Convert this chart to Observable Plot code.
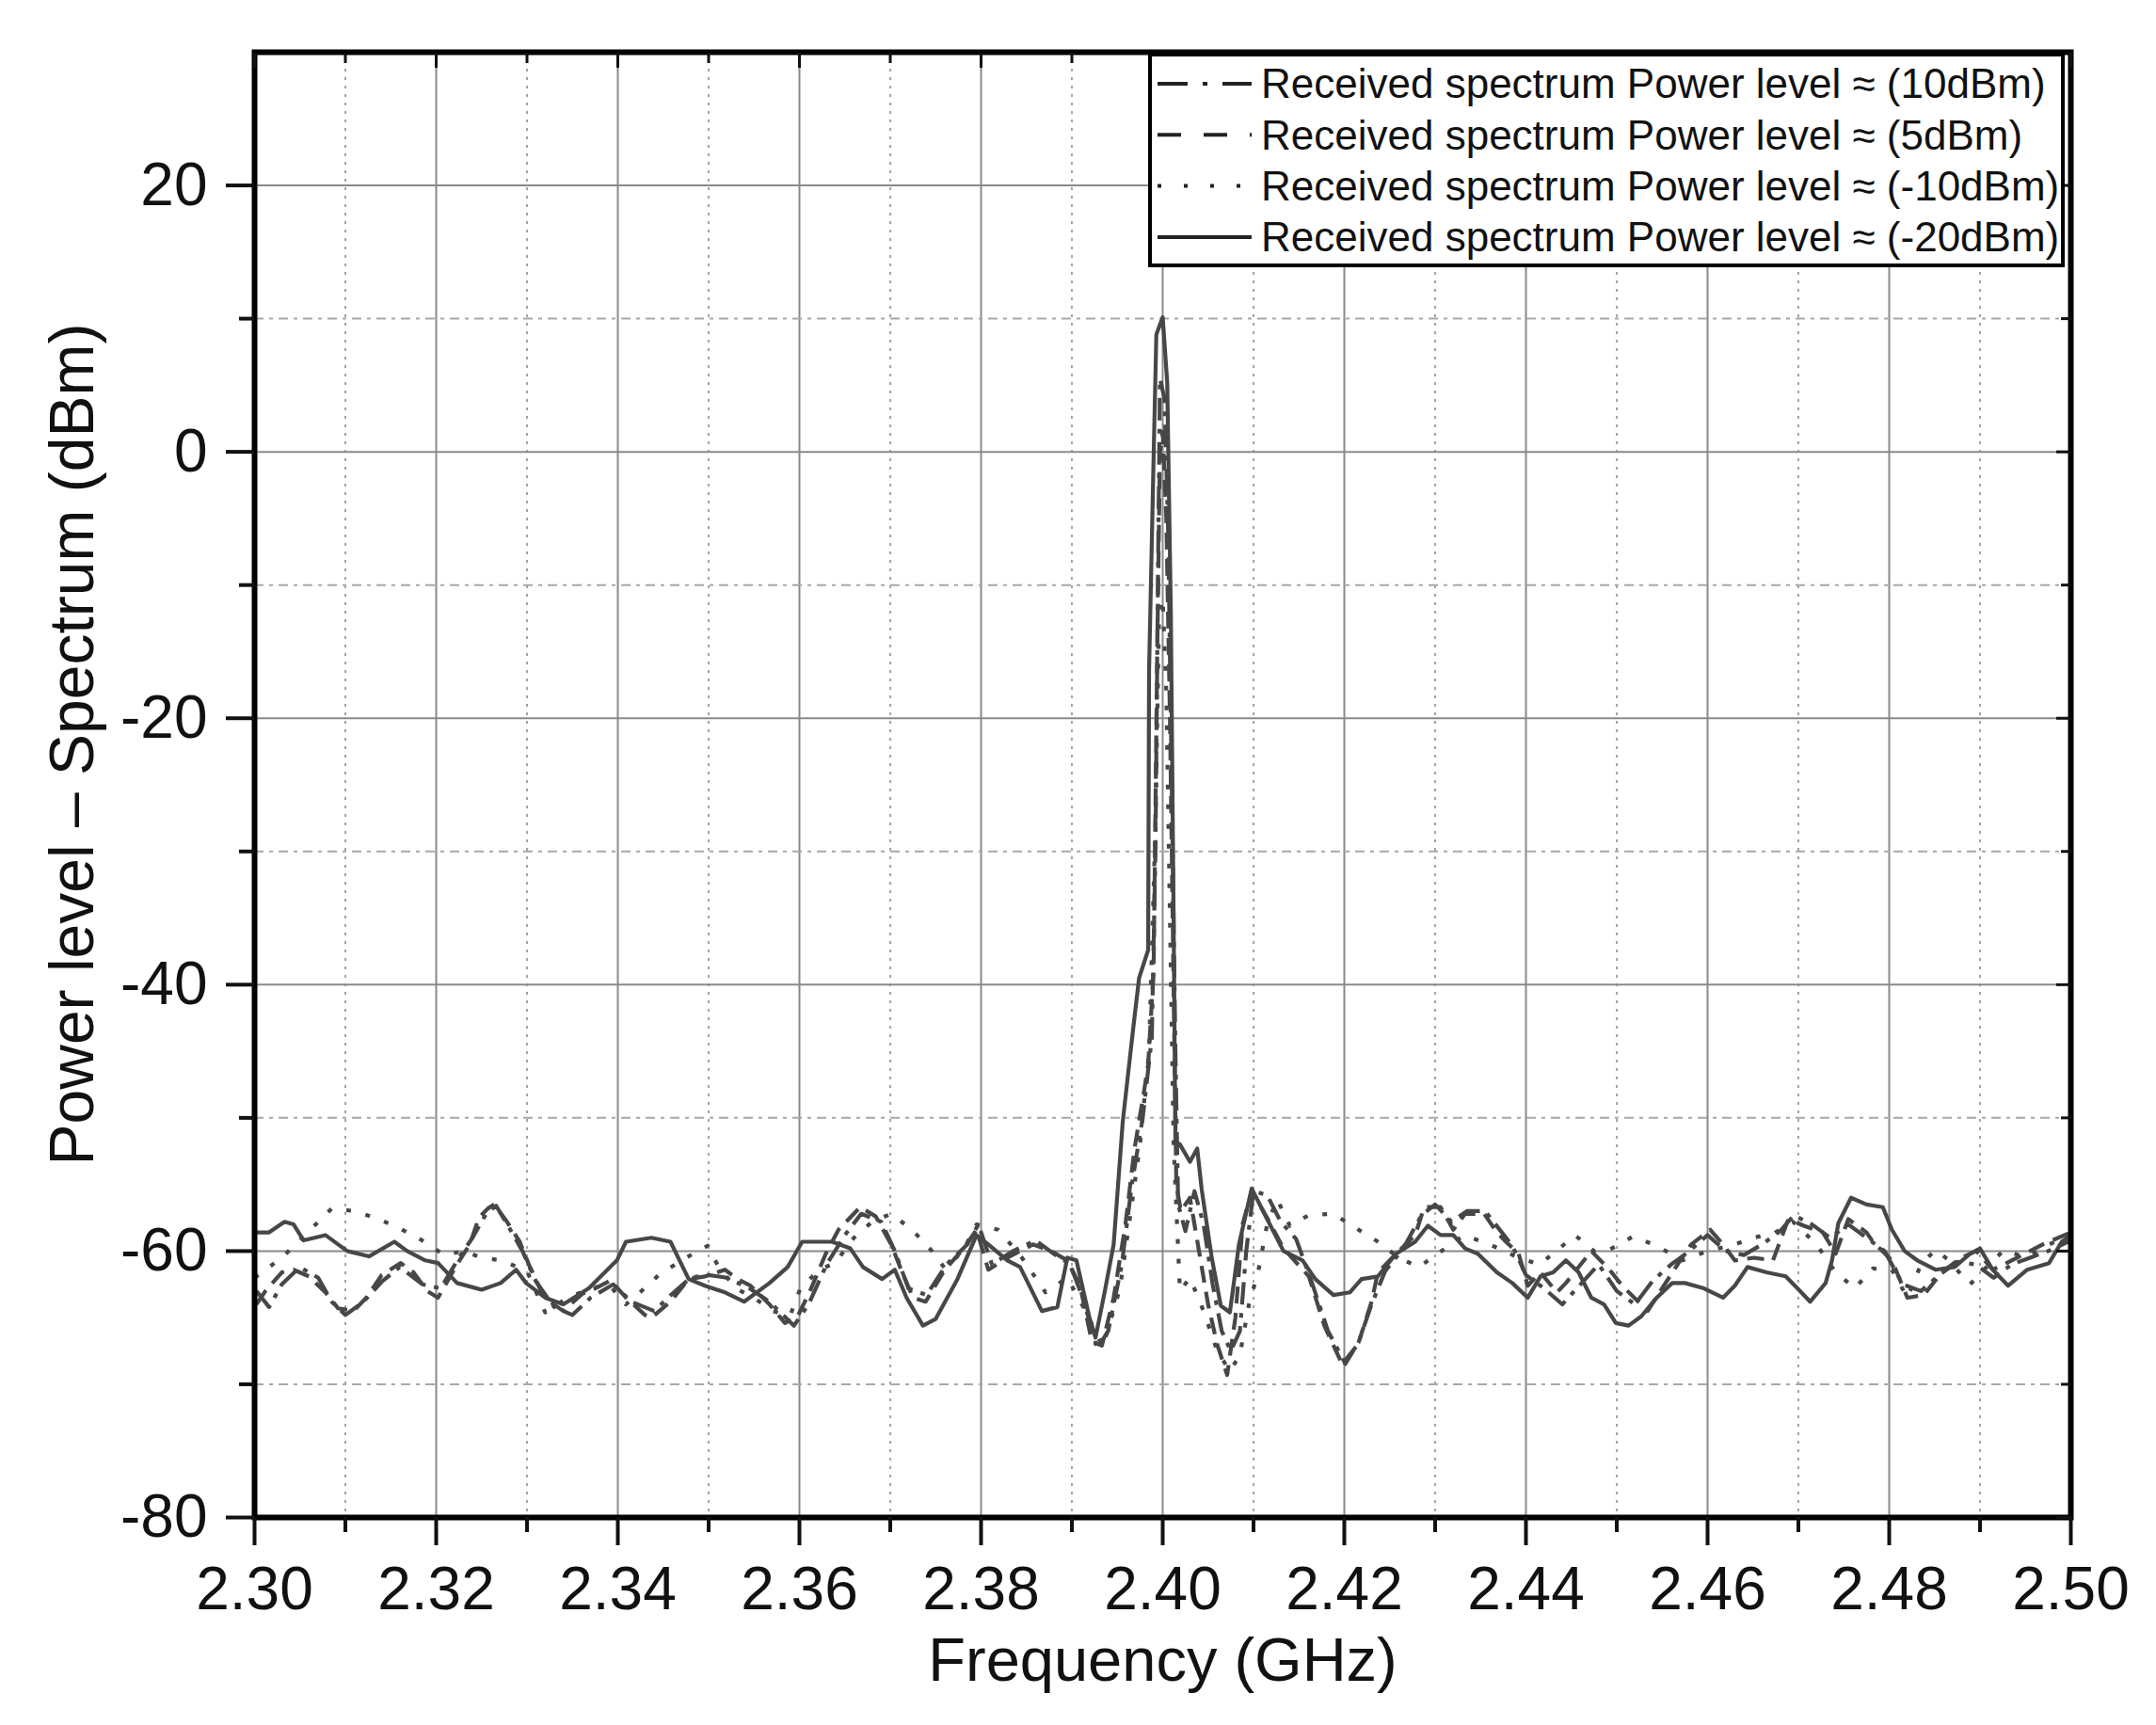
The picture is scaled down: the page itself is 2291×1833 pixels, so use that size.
<!DOCTYPE html>
<html><head><meta charset="utf-8">
<script src="https://cdn.jsdelivr.net/npm/d3@7"></script>
<script src="https://cdn.jsdelivr.net/npm/@observablehq/plot@0.6"></script>
<style>body{margin:0;background:#fff} svg{display:block}</style>
</head><body><div id="chart"></div>
<script>
const seriesLabels = [
  "Received spectrum Power level \u2248 (10dBm)",
  "Received spectrum Power level \u2248 (5dBm)",
  "Received spectrum Power level \u2248 (-10dBm)",
  "Received spectrum Power level \u2248 (-20dBm)"
];
const xMajorTicks = [2.30,2.32,2.34,2.36,2.38,2.40,2.42,2.44,2.46,2.48,2.50];
const xMinorTicks = [2.31,2.33,2.35,2.37,2.39,2.41,2.43,2.45,2.47,2.49];
const yMajorTicks = [-80,-60,-40,-20,0,20];
const yMinorTicks = [-70,-50,-30,-10,10];
const xTitle = "Frequency (GHz)";
const yTitle = "Power level \u2013 Spectrum (dBm)";

// 10 dBm (dash-dot)
const freqDashDot = [2.3002,2.3016,2.3030,2.3050,2.3070,2.3085,2.3100,2.3120,2.3140,2.3160,2.3185,2.3205,2.3225,2.3240,2.3255,2.3266,2.3280,2.3295,2.3310,2.3330,2.3350,2.3370,2.3395,2.3415,2.3440,2.3460,2.3480,2.3500,2.3520,2.3545,2.3567,2.3594,2.3610,2.3630,2.3650,2.3668,2.3690,2.3705,2.3720,2.3740,2.3762,2.3785,2.3797,2.3812,2.3835,2.3860,2.3880,2.3898,2.3912,2.3928,2.3940,2.3955,2.3966,2.3978,2.3988,2.3992,2.3995,2.3997,2.4002,2.4006,2.4010,2.4014,2.4017,2.4025,2.4035,2.4045,2.4055,2.4065,2.4075,2.4085,2.4092,2.4100,2.4115,2.4130,2.4147,2.4165,2.4182,2.4200,2.4215,2.4230,2.4245,2.4265,2.4285,2.4300,2.4318,2.4335,2.4355,2.4370,2.4385,2.4400,2.4420,2.4440,2.4460,2.4480,2.4500,2.4520,2.4540,2.4560,2.4580,2.4600,2.4620,2.4640,2.4660,2.4680,2.4695,2.4715,2.4735,2.4755,2.4775,2.4795,2.4815,2.4835,2.4855,2.4875,2.4895,2.4915,2.4935,2.4955,2.4975,2.5000];
const powerDashDot = [-63.0,-64.2,-62.5,-61.2,-62.0,-63.8,-64.8,-63.8,-62.3,-61.2,-62.5,-62.8,-60.5,-59.0,-57.2,-56.6,-58.2,-60.0,-62.3,-64.2,-64.8,-63.5,-62.5,-63.8,-64.5,-63.2,-62.0,-61.8,-62.0,-62.8,-63.8,-65.6,-64.0,-61.0,-58.8,-57.2,-57.8,-60.0,-62.8,-63.3,-61.0,-59.5,-58.0,-61.0,-60.0,-59.2,-60.2,-61.0,-63.5,-67.3,-66.0,-61.0,-55.0,-50.0,-44.0,-30.0,-8.0,5.5,4.0,-6.0,-25.0,-45.0,-56.5,-58.5,-55.5,-58.0,-62.5,-66.0,-67.5,-66.0,-60.0,-55.5,-55.8,-57.8,-59.1,-62.5,-66.0,-68.3,-67.0,-64.0,-61.5,-59.8,-57.3,-56.5,-57.8,-57.0,-57.0,-58.3,-59.6,-61.8,-62.8,-64.0,-62.5,-61.0,-63.0,-64.0,-62.2,-61.0,-60.0,-58.8,-60.0,-60.3,-59.5,-58.5,-57.3,-58.0,-59.0,-58.0,-59.0,-60.0,-62.5,-63.0,-61.8,-60.8,-61.0,-62.0,-61.0,-60.5,-60.0,-59.2];

// 5 dBm (dashed)
const freqDashed = [2.3002,2.3012,2.3030,2.3043,2.3060,2.3078,2.3092,2.3109,2.3123,2.3140,2.3161,2.3175,2.3190,2.3202,2.3223,2.3237,2.3247,2.3257,2.3264,2.3278,2.3292,2.3302,2.3319,2.3340,2.3361,2.3375,2.3392,2.3409,2.3430,2.3437,2.3458,2.3478,2.3496,2.3518,2.3532,2.3546,2.3567,2.3584,2.3598,2.3611,2.3629,2.3643,2.3667,2.3684,2.3701,2.3712,2.3725,2.3739,2.3760,2.3781,2.3795,2.3808,2.3829,2.3857,2.3877,2.3895,2.3909,2.3922,2.3933,2.3946,2.3959,2.3969,2.3979,2.3984,2.3990,2.3994,2.3997,2.4000,2.4004,2.4008,2.4012,2.4015,2.4020,2.4030,2.4040,2.4050,2.4060,2.4071,2.4080,2.4088,2.4098,2.4115,2.4133,2.4161,2.4178,2.4199,2.4216,2.4230,2.4237,2.4257,2.4278,2.4288,2.4306,2.4320,2.4333,2.4354,2.4368,2.4378,2.4392,2.4402,2.4416,2.4434,2.4444,2.4472,2.4492,2.4506,2.4534,2.4547,2.4568,2.4582,2.4603,2.4617,2.4630,2.4651,2.4672,2.4689,2.4706,2.4727,2.4741,2.4755,2.4775,2.4782,2.4803,2.4820,2.4838,2.4858,2.4879,2.4896,2.4914,2.4941,2.4969,2.5000];
const powerDashed = [-64.0,-63.0,-61.6,-61.4,-61.9,-63.1,-64.3,-64.5,-63.5,-61.8,-60.9,-61.6,-63.0,-63.5,-61.0,-59.5,-57.5,-56.8,-56.5,-57.8,-59.3,-61.0,-63.5,-64.5,-63.2,-62.8,-62.2,-63.5,-64.8,-65.0,-63.8,-62.1,-61.9,-61.4,-62.1,-62.6,-64.0,-65.4,-64.9,-63.1,-60.2,-58.4,-56.7,-57.4,-59.5,-61.4,-63.5,-63.8,-61.4,-59.8,-58.4,-61.4,-60.5,-59.5,-60.0,-60.7,-62.6,-66.8,-67.1,-63.5,-58.0,-52.3,-48.2,-46.0,-39.0,-15.0,0.0,1.5,-5.0,-20.0,-40.0,-55.0,-57.0,-56.0,-60.0,-64.0,-67.0,-69.3,-65.0,-58.0,-55.5,-57.5,-59.8,-61.9,-65.6,-68.7,-66.8,-63.8,-61.6,-60.2,-58.8,-56.7,-56.7,-58.4,-57.2,-57.2,-58.6,-59.3,-60.2,-62.6,-61.6,-63.1,-62.4,-60.0,-61.4,-62.6,-64.5,-63.1,-60.9,-59.5,-58.4,-59.5,-60.7,-60.5,-60.7,-57.6,-58.1,-58.6,-60.2,-57.6,-58.6,-59.3,-60.7,-63.5,-63.3,-61.6,-60.5,-60.0,-61.4,-60.5,-59.5,-58.6];

// -10 dBm (dotted)
const freqDotted = [2.3000,2.3030,2.3060,2.3085,2.3110,2.3133,2.3157,2.3180,2.3209,2.3230,2.3250,2.3272,2.3300,2.3320,2.3345,2.3370,2.3390,2.3409,2.3426,2.3445,2.3470,2.3499,2.3511,2.3530,2.3550,2.3570,2.3590,2.3601,2.3622,2.3639,2.3660,2.3680,2.3701,2.3724,2.3746,2.3760,2.3780,2.3795,2.3819,2.3845,2.3871,2.3895,2.3915,2.3934,2.3953,2.3965,2.3975,2.3985,2.3992,2.3996,2.4000,2.4004,2.4008,2.4012,2.4019,2.4030,2.4045,2.4060,2.4074,2.4085,2.4095,2.4105,2.4115,2.4126,2.4140,2.4161,2.4188,2.4211,2.4237,2.4260,2.4282,2.4309,2.4332,2.4360,2.4392,2.4415,2.4437,2.4454,2.4475,2.4492,2.4518,2.4544,2.4572,2.4600,2.4630,2.4650,2.4672,2.4694,2.4720,2.4740,2.4762,2.4782,2.4803,2.4820,2.4835,2.4851,2.4864,2.4889,2.4910,2.4927,2.4950,2.4976,2.5000];
const powerDotted = [-62.0,-60.5,-58.5,-56.8,-57.0,-57.5,-58.2,-59.0,-60.3,-60.0,-60.5,-60.7,-61.5,-64.6,-63.5,-62.8,-62.5,-64.0,-63.0,-61.8,-60.7,-59.6,-61.2,-62.8,-63.5,-64.5,-64.8,-62.8,-61.4,-60.9,-59.0,-57.8,-57.2,-58.4,-60.0,-61.3,-60.0,-58.0,-58.4,-60.5,-63.1,-62.0,-64.5,-67.2,-62.8,-57.0,-52.0,-45.0,-28.0,-12.5,-11.0,-18.0,-35.0,-52.0,-63.0,-62.0,-64.5,-67.5,-69.0,-67.8,-64.0,-61.6,-58.0,-56.1,-58.1,-57.3,-57.2,-58.2,-59.3,-60.5,-61.2,-59.9,-58.8,-59.5,-60.5,-61.0,-59.8,-58.8,-60.0,-59.9,-58.9,-59.6,-60.7,-60.0,-59.5,-59.0,-58.7,-57.8,-59.5,-61.5,-62.8,-61.3,-61.4,-63.5,-61.0,-59.9,-60.6,-62.5,-61.0,-59.9,-60.5,-59.5,-58.8];

// -20 dBm (solid)
const freqSolid = [2.3002,2.3016,2.3033,2.3043,2.3054,2.3078,2.3102,2.3126,2.3154,2.3168,2.3188,2.3202,2.3223,2.3250,2.3271,2.3288,2.3299,2.3320,2.3340,2.3368,2.3399,2.3409,2.3437,2.3458,2.3468,2.3478,2.3496,2.3518,2.3539,2.3567,2.3587,2.3603,2.3636,2.3656,2.3670,2.3691,2.3705,2.3718,2.3736,2.3750,2.3774,2.3795,2.3808,2.3829,2.3843,2.3867,2.3884,2.3895,2.3905,2.3919,2.3926,2.3936,2.3946,2.3956,2.3967,2.3974,2.3984,2.3985,2.3990,2.3993,2.4000,2.4005,2.4009,2.4012,2.4014,2.4019,2.4030,2.4038,2.4043,2.4054,2.4064,2.4074,2.4084,2.4098,2.4112,2.4133,2.4154,2.4168,2.4188,2.4206,2.4219,2.4237,2.4257,2.4278,2.4292,2.4306,2.4320,2.4333,2.4347,2.4368,2.4385,2.4402,2.4416,2.4430,2.4444,2.4458,2.4472,2.4486,2.4499,2.4513,2.4527,2.4544,2.4561,2.4575,2.4596,2.4617,2.4630,2.4644,2.4665,2.4686,2.4699,2.4713,2.4730,2.4737,2.4744,2.4758,2.4775,2.4793,2.4803,2.4817,2.4831,2.4851,2.4872,2.4889,2.4900,2.4914,2.4931,2.4952,2.4976,2.4990,2.5000];
const powerSolid = [-58.6,-58.6,-57.8,-58.0,-59.2,-58.8,-60.0,-60.4,-59.3,-60.0,-60.7,-60.9,-62.4,-62.9,-62.4,-61.4,-62.4,-63.5,-64.0,-62.8,-60.7,-59.3,-59.0,-59.3,-60.7,-62.1,-62.6,-63.1,-63.8,-62.4,-61.2,-59.3,-59.3,-59.8,-61.2,-62.1,-61.4,-63.5,-65.6,-65.1,-62.1,-58.8,-59.5,-60.7,-61.2,-64.5,-64.2,-60.5,-60.7,-64.9,-66.5,-63.1,-59.5,-50.3,-43.6,-39.5,-37.4,-16.4,-0.4,8.8,10.1,5.2,-12.2,-34.8,-51.8,-52.0,-53.3,-52.3,-55.4,-60.5,-64.1,-64.6,-59.5,-55.3,-57.2,-60.0,-60.7,-62.1,-63.3,-63.1,-62.1,-61.9,-60.2,-59.3,-58.1,-58.8,-58.8,-59.8,-60.2,-61.6,-62.4,-63.5,-61.9,-61.6,-60.7,-61.6,-63.5,-64.0,-65.4,-65.6,-64.9,-63.5,-62.4,-62.4,-62.8,-63.5,-62.6,-61.2,-61.6,-61.9,-62.8,-63.8,-62.4,-60.7,-57.9,-56.0,-56.5,-56.7,-58.4,-60.0,-60.7,-61.4,-61.2,-60.2,-59.8,-61.4,-62.6,-61.4,-60.9,-59.3,-58.8];

const seriesFreq = [freqDashDot, freqDashed, freqDotted, freqSolid];
const seriesPower = [powerDashDot, powerDashed, powerDotted, powerSolid];
const plotDash = ["24,9,5,9", "18,10", "5,16", null];
const legendDash = ["32,16,5,16", "25,24", "4,24", null];
const lineColor = "#474747";

const lineMarks = seriesLabels.map((label, i) => {
  const n = Math.min(seriesFreq[i].length, seriesPower[i].length);
  const rows = d3.range(n).map(j => ({freq: seriesFreq[i][j], power: seriesPower[i][j], series: label}));
  return Plot.line(rows, {x: "freq", y: "power", stroke: lineColor, strokeWidth: 4.2, strokeDasharray: plotDash[i], strokeLinecap: "butt", strokeLinejoin: "round"});
});

const font = "'Liberation Sans', Arial, sans-serif";
const plot = Plot.plot({
  width: 2291,
  height: 1833,
  marginLeft: 270,
  marginRight: 91,
  marginTop: 55,
  marginBottom: 221,
  style: {fontFamily: font, background: "white", color: "#111", overflow: "visible"},
  x: {domain: [2.30, 2.50], label: null},
  y: {domain: [-80, 30], label: null},
  marks: [
    Plot.gridX(xMinorTicks, {stroke: "#a4a4a4", strokeOpacity: 1, strokeWidth: 2, strokeDasharray: "3,6"}),
    Plot.gridX(xMajorTicks, {stroke: "#8a8a8a", strokeOpacity: 1, strokeWidth: 2}),
    Plot.gridY(yMinorTicks, {stroke: "#a8a8a8", strokeOpacity: 1, strokeWidth: 2, strokeDasharray: "10,6,4,6"}),
    Plot.gridY(yMajorTicks, {stroke: "#8a8a8a", strokeOpacity: 1, strokeWidth: 2}),
    ...lineMarks,
    Plot.frame({stroke: "#000", strokeWidth: 6}),
    Plot.axisX(xMajorTicks, {anchor: "bottom", tickSize: 30, tickPadding: 22, strokeWidth: 4, fontSize: 64, tickFormat: d => d.toFixed(2), label: null}),
    Plot.axisX(xMinorTicks, {anchor: "bottom", tickSize: 16, strokeWidth: 4, tickFormat: () => "", label: null}),
    Plot.axisX(xMajorTicks, {anchor: "top", tickSize: -16, strokeWidth: 3, tickFormat: () => "", label: null}),
    Plot.axisX(xMinorTicks, {anchor: "top", tickSize: -11, strokeWidth: 3, tickFormat: () => "", label: null}),
    Plot.axisY(yMajorTicks, {anchor: "left", tickSize: 30, tickPadding: 20, strokeWidth: 4, fontSize: 64, tickFormat: d => String(d), label: null}),
    Plot.axisY(yMinorTicks, {anchor: "left", tickSize: 16, strokeWidth: 4, tickFormat: () => "", label: null}),
    Plot.axisY(yMajorTicks, {anchor: "right", tickSize: -16, strokeWidth: 3, tickFormat: () => "", label: null}),
    Plot.axisY(yMinorTicks, {anchor: "right", tickSize: -11, strokeWidth: 3, tickFormat: () => "", label: null}),
    Plot.text([xTitle], {text: d => d, frameAnchor: "bottom", textAnchor: "middle", lineAnchor: "middle", dy: 153, fontSize: 65, fill: "#111"}),
    Plot.text([yTitle], {text: d => d, frameAnchor: "left", textAnchor: "middle", lineAnchor: "middle", dx: -193, dy: -43, rotate: -90, fontSize: 66, fill: "#111"})
  ]
});
document.getElementById("chart").appendChild(plot);

// legend box (drawn into the same SVG)
const svg = d3.select(plot);
const lg = svg.append("g").attr("class", "legend").attr("text-anchor", "start");
lg.append("rect").attr("x", 1222).attr("y", 58).attr("width", 970).attr("height", 224)
  .attr("fill", "white").attr("stroke", "#000").attr("stroke-width", 4);
seriesLabels.forEach((label, i) => {
  const cy = 89 + i * 54.3;
  lg.append("line").attr("x1", 1230).attr("x2", 1330).attr("y1", cy).attr("y2", cy)
    .attr("stroke", "#222").attr("stroke-width", 4).attr("stroke-dasharray", legendDash[i]);
  lg.append("text").attr("x", 1340).attr("y", cy).attr("dy", "0.35em").attr("text-anchor", "start")
    .attr("font-size", 44).attr("font-family", font).attr("fill", "#111").text(label);
});
</script>
</body></html>
